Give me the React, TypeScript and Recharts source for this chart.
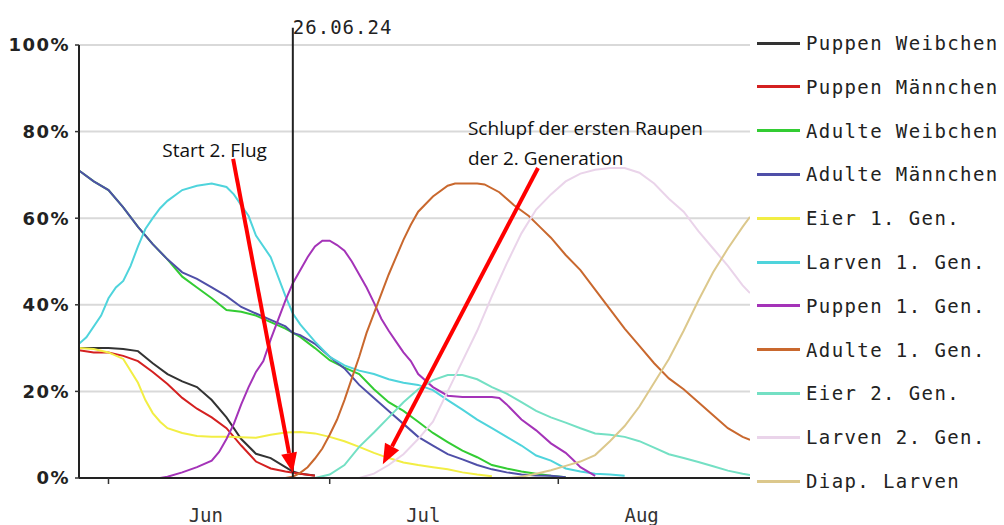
import { LineChart, Line, XAxis, YAxis, CartesianGrid, Legend, ReferenceLine, ReferenceDot } from "recharts";

// x values are days counted from 1 June 2024 (Jul 1 = 30, Aug 1 = 61)
const dayDomain = [-4, 87];
const monthStarts = [0, 30, 61];
const monthLabelDays = [13.2, 42.7, 72.3];
const monthNames = ["Jun", "Jul", "Aug"];
const percentTicks = [0, 20, 40, 60, 80, 100];
const todayDay = 25;
const todayLabel = "26.06.24";

const seriesNames = [
  "Puppen Weibchen",
  "Puppen Männchen",
  "Adulte Weibchen",
  "Adulte Männchen",
  "Eier 1. Gen.",
  "Larven 1. Gen.",
  "Puppen 1. Gen.",
  "Adulte 1. Gen.",
  "Eier 2. Gen.",
  "Larven 2. Gen.",
  "Diap. Larven",
];

const seriesColors = [
  "#333333", "#d42020", "#33cc33", "#4f4fa8", "#f2ee44", "#4fd4dc",
  "#a433b8", "#c9682e", "#74e0c4", "#ead4ea", "#dcc88c",
];

// [day, percent]
const puppenWeibchen = [
  [-4, 30], [-2, 30], [0, 30], [2, 29.8], [4, 29.3], [6, 26.5], [8, 24], [10, 22.3], [12, 21],
  [14, 18], [16, 14], [18, 9], [20, 5.6], [22, 4.6], [24, 2.5], [25, 1.5], [26, 1], [28, 0.6],
];
const puppenMaennchen = [
  [-4, 29.5], [-2, 29], [0, 29], [2, 28.2], [4, 27], [6, 24.5], [8, 21.7], [10, 18.5], [12, 16],
  [14, 14], [16, 11.5], [18, 7.5], [20, 3.8], [22, 2.2], [24, 1.5], [26, 1], [28, 0.5],
];
const adulteWeibchen = [
  [-4, 71], [-2, 68.5], [0, 66.5], [2, 62.5], [4, 58], [6, 54], [8, 50.5], [10, 46.5], [12, 44],
  [14, 41.5], [16, 38.8], [18, 38.4], [20, 37.5], [22, 36], [24, 34.5], [26, 32.6], [28, 30],
  [30, 27.2], [32, 25.5], [34, 24], [36, 20.5], [38, 17.5], [40, 15.5], [42, 13], [44, 10.4],
  [46, 8.3], [48, 6.3], [50, 4.8], [52, 3], [54, 2.2], [56, 1.5], [58, 1], [60, 0.5], [62, 0.2],
];
const adulteMaennchen = [
  [-4, 71], [-2, 68.5], [0, 66.5], [2, 62.5], [4, 58], [6, 54], [8, 50.5], [10, 47.5], [12, 46],
  [14, 44], [16, 42], [18, 39.5], [20, 38], [22, 36.5], [24, 35], [25, 33.5], [26, 33], [28, 31],
  [30, 28], [32, 25.3], [34, 21.5], [36, 18.5], [38, 15.5], [40, 12.5], [42, 9.5], [44, 7.5],
  [46, 5.5], [48, 4.3], [50, 3], [52, 2], [54, 1.3], [56, 0.8], [58, 0.6], [60, 0.5], [62, 0.2],
];
const eier1 = [
  [-4, 30], [-2, 29.8], [0, 29], [2, 27.5], [4, 22], [5, 18], [6, 15], [7, 13], [8, 11.5], [10, 10.4],
  [12, 9.7], [14, 9.5], [16, 9.5], [18, 9.4], [20, 9.3], [22, 10], [24, 10.5], [26, 10.6], [28, 10.3],
  [30, 9.5], [32, 8.5], [34, 7.2], [36, 5.8], [38, 4.6], [40, 3.6], [42, 3], [44, 2.5], [46, 2],
  [48, 1.3], [50, 0.8], [52, 0.4],
];
const larven1 = [
  [-4, 31], [-3, 32.5], [-1, 37.5], [0, 41.5], [1, 44], [2, 45.5], [3, 49], [4, 53.5], [5, 57.5],
  [6, 60], [7, 62.3], [8, 64], [10, 66.5], [12, 67.5], [14, 68], [16, 67.2], [17, 65.5], [18, 63],
  [19, 60.5], [20, 56], [22, 51], [24, 42], [25, 38], [26, 35.5], [28, 31.5], [30, 28], [32, 26],
  [34, 24.8], [36, 24], [38, 22.8], [40, 22], [42, 21.5], [44, 20.3], [46, 18], [48, 15.8],
  [50, 13.5], [52, 11.5], [54, 9.5], [56, 7.5], [58, 5.2], [60, 4], [62, 2.2], [64, 1.5], [66, 1],
  [68, 0.8], [70, 0.5],
];
const puppen1 = [
  [7, 0], [8, 0.3], [10, 1.3], [12, 2.5], [14, 4], [15, 6], [16, 9], [17, 12.5], [18, 17], [19, 21],
  [20, 24.5], [21, 27], [22, 32], [23, 36.5], [24, 41], [25, 45], [26, 48], [27, 51], [28, 53.5],
  [29, 54.8], [30, 54.8], [31, 53.8], [32, 52.5], [33, 50], [34, 47], [35, 44], [36, 40.5],
  [37, 36.8], [38, 34], [39, 31.5], [40, 29], [41, 27], [42, 24], [44, 21], [46, 19], [48, 18.7],
  [50, 18.7], [52, 18.7], [53, 18.5], [54, 17], [56, 13.5], [58, 11], [60, 8], [62, 5.8], [63, 4.2],
  [64, 2.5], [66, 0.5],
];
const adulte1 = [
  [24, 0], [25, 0.3], [26, 1.2], [27, 2.5], [28, 4.5], [29, 6.8], [30, 10], [31, 13.5], [32, 18],
  [33, 23], [34, 28], [35, 33.5], [36, 38], [37, 42.5], [38, 47], [39, 51], [40, 55], [41, 58.5],
  [42, 61.5], [44, 65], [46, 67.5], [47, 68], [50, 68], [51, 67.8], [53, 66], [55, 63], [57, 60.5],
  [58.5, 58], [60, 55.5], [62, 51.5], [64, 48], [66, 43.5], [68, 39], [70, 34.5], [72, 30.5],
  [74, 26.5], [76, 23], [78, 20.5], [80, 17.5], [82, 14.5], [84, 11.5], [86, 9.5], [87, 8.8],
];
const eier2 = [
  [28, 0], [30, 0.8], [32, 3], [34, 7.2], [36, 10.5], [38, 14], [40, 17.5], [42, 20.5], [44, 22.6],
  [46, 23.8], [48, 23.8], [50, 22.8], [52, 21], [54, 19.5], [56, 17.5], [58, 15.5], [60, 14],
  [62, 12.8], [64, 11.5], [66, 10.3], [68, 10], [70, 9.5], [72, 8.5], [74, 7], [76, 5.5], [78, 4.6],
  [80, 3.7], [82, 2.7], [84, 1.7], [86, 1], [87, 0.7],
];
const larven2 = [
  [34, 0], [36, 1], [38, 3], [40, 5.5], [42, 9], [44, 13], [46, 20], [48, 27], [50, 34], [52, 42],
  [54, 49.5], [56, 56.5], [58, 62], [60, 65.5], [62, 68.5], [64, 70.3], [66, 71.2], [68, 71.6],
  [70, 71.6], [72, 70.5], [74, 68], [76, 64.5], [78, 61.5], [80, 57], [82, 53], [84, 49], [86, 44.5],
  [87, 42.7],
];
const diapLarven = [
  [54, 0], [56, 0.3], [58, 1], [60, 1.8], [62, 2.8], [64, 3.8], [66, 5.3], [68, 8.5], [70, 12],
  [72, 16.5], [74, 22], [76, 27.5], [78, 34], [80, 41], [82, 47.5], [84, 53], [86, 58], [87, 60.3],
];

const seriesValues = [
  puppenWeibchen, puppenMaennchen, adulteWeibchen, adulteMaennchen, eier1, larven1,
  puppen1, adulte1, eier2, larven2, diapLarven,
];

// annotations: [day, percent]
const flugArrow = [[16.9, 73.7], [25.0, 1.2]];
const schlupfArrow = [[58.25, 71.6], [37.2, 3.2]];
const flugText = { day: 7.3, pct: 74.1, lines: ["Start 2. Flug"] };
const schlupfText = { day: 48.75, pct: 79.2, lines: ["Schlupf der ersten Raupen", "der 2. Generation"] };

const mono = "'DejaVu Sans Mono', 'Liberation Mono', monospace";
const annoFont = "'Open Sans', 'Noto Sans', sans-serif";

// month boundaries get a tick mark, month centres get the name
const MonthTick = (p: any) => {
  const { x, y, payload } = p;
  const v = payload.value;
  if (monthStarts.includes(v)) {
    return <line x1={x} y1={y} x2={x} y2={y + 6} stroke="#333" strokeWidth={1.5} />;
  }
  const idx = monthLabelDays.indexOf(v);
  return (
    <text x={x} y={y + 44} textAnchor="middle" fontFamily={mono} fontSize={19} fill="#333">
      {monthNames[idx]}
    </text>
  );
};

const Arrow = (p: any) => {
  const { x1, y1, x2, y2 } = p;
  const ang = Math.atan2(y2 - y1, x2 - x1);
  const len = 20;
  const half = 8;
  const bx = x2 - len * Math.cos(ang);
  const by = y2 - len * Math.sin(ang);
  const nx = -Math.sin(ang) * half;
  const ny = Math.cos(ang) * half;
  return (
    <g>
      <line x1={x1} y1={y1} x2={bx} y2={by} stroke="#ff0000" strokeWidth={4} />
      <polygon points={`${x2},${y2} ${bx + nx},${by + ny} ${bx - nx},${by - ny}`} fill="#ff0000" />
    </g>
  );
};

const textShape = (lines: string[]) => (p: any) => (
  <text x={p.cx} y={p.cy} fontFamily={annoFont} fontSize={19} fill="#111">
    {lines.map((l, i) => (
      <tspan key={i} x={p.cx} dy={i === 0 ? 0 : 30}>{l}</tspan>
    ))}
  </text>
);

const renderLegend = () => (
  <div style={{ width: 254, height: 484, position: "relative" }}>
    {seriesNames.map((name, i) => (
      <div
        key={name}
        style={{
          position: "absolute", left: 7, top: i * 43.8, height: 44,
          display: "flex", alignItems: "center", whiteSpace: "nowrap",
        }}
      >
        <span style={{ display: "inline-block", width: 43, height: 3, background: seriesColors[i] }} />
        <span style={{ marginLeft: 6, fontFamily: mono, fontSize: 19, letterSpacing: 1.4, color: "#222" }}>{name}</span>
      </div>
    ))}
  </div>
);

export default function App() {
  return (
    <div style={{ position: "absolute", left: 0, top: 0, background: "#fff" }}>
      <LineChart width={1004} height={525} margin={{ top: 45, right: 0, bottom: 0, left: 0 }}>
        <CartesianGrid xAxisId="days" vertical={false} stroke="#d9d9d9" strokeWidth={2} />
        <XAxis
          xAxisId="days"
          type="number"
          dataKey="d"
          domain={dayDomain}
          allowDataOverflow
          ticks={[...monthStarts, ...monthLabelDays]}
          interval={0}
          height={47}
          tickSize={0}
          tickMargin={0}
          tickLine={false}
          tick={<MonthTick />}
          axisLine={{ stroke: "#222", strokeWidth: 2 }}
        />
        <YAxis
          type="number"
          domain={[0, 100]}
          ticks={percentTicks}
          width={79}
          tickFormatter={(v: number) => `${v}%`}
          tickSize={4}
          tickMargin={5}
          tickLine={{ stroke: "#333", strokeWidth: 1.5 }}
          axisLine={{ stroke: "#222", strokeWidth: 2 }}
          tick={{ fontFamily: "'DejaVu Sans', sans-serif", fontWeight: "bold", fontSize: 18, fill: "#222", letterSpacing: 1.5 }}
        />
        <Legend
          layout="vertical"
          align="right"
          verticalAlign="top"
          content={renderLegend}
          wrapperStyle={{ top: 21, right: 0 }}
        />
        {seriesValues.map((vals, i) => (
          <Line
            key={seriesNames[i]}
            xAxisId="days"
            name={seriesNames[i]}
            data={vals.map(([d, v]) => ({ d, v }))}
            dataKey="v"
            type="linear"
            stroke={seriesColors[i]}
            strokeWidth={2}
            dot={false}
            isAnimationActive={false}
          />
        ))}
        <ReferenceLine
          xAxisId="days"
          segment={[{ x: todayDay, y: 0 }, { x: todayDay, y: 104 }]}
          ifOverflow="visible"
          stroke="#222"
          strokeWidth={2}
        />
        <ReferenceDot
          xAxisId="days"
          x={todayDay}
          y={102.6}
          r={0}
          ifOverflow="visible"
          shape={(p: any) => (
            <text x={p.cx} y={p.cy} fontFamily={mono} fontSize={19} letterSpacing={1} fill="#222">{todayLabel}</text>
          )}
        />
        <ReferenceDot xAxisId="days" x={flugText.day} y={flugText.pct} r={0} ifOverflow="visible" shape={textShape(flugText.lines)} />
        <ReferenceDot xAxisId="days" x={schlupfText.day} y={schlupfText.pct} r={0} ifOverflow="visible" shape={textShape(schlupfText.lines)} />
        <ReferenceLine
          xAxisId="days"
          segment={flugArrow.map(([x, y]) => ({ x, y }))}
          ifOverflow="visible"
          shape={Arrow}
        />
        <ReferenceLine
          xAxisId="days"
          segment={schlupfArrow.map(([x, y]) => ({ x, y }))}
          ifOverflow="visible"
          shape={Arrow}
        />
      </LineChart>
    </div>
  );
}
